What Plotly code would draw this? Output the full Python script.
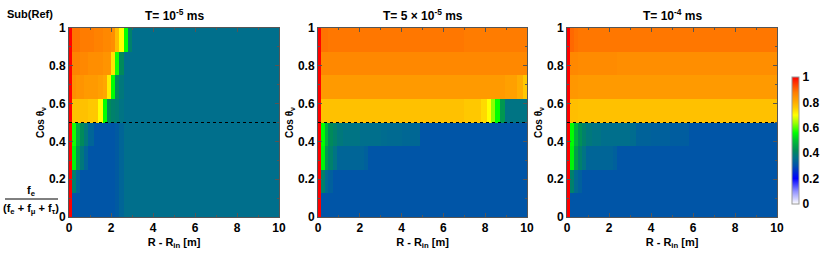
import plotly.graph_objects as go

# radial bin edges (m) and angular bin edges (cos theta)
r_edges = [0, 0.14, 0.34, 0.5, 0.7, 0.9, 1.2, 1.4, 1.6, 1.8, 2.0, 2.2, 2.4, 2.6, 2.8,
           3.0, 3.3, 4.0, 4.9, 5.8, 7.0, 7.8, 8.1, 8.3, 8.45, 8.7, 8.95, 9.5, 9.8, 10.0]
cos_edges = [0, 0.125, 0.25, 0.375, 0.5, 0.625, 0.75, 0.875, 1.0]

titles = ["T= 10<sup>-5</sup> ms", "T= 5 × 10<sup>-5</sup> ms", "T= 10<sup>-4</sup> ms"]
split_cos = 0.5

# Panel 1: T = 1e-5 ms  (rows from cos=0 upwards)
z_t1 = [
    [1.00, 0.31, 0.31, 0.31, 0.31, 0.31, 0.31, 0.31, 0.31, 0.31, 0.31, 0.32, 0.34, 0.36, 0.36, 0.36, 0.36, 0.36, 0.36, 0.36, 0.36, 0.36, 0.36, 0.36, 0.36, 0.36, 0.36, 0.36, 0.36],
    [1.00, 0.40, 0.34, 0.31, 0.31, 0.31, 0.31, 0.31, 0.31, 0.31, 0.31, 0.32, 0.34, 0.36, 0.36, 0.36, 0.36, 0.36, 0.36, 0.36, 0.36, 0.36, 0.36, 0.36, 0.36, 0.36, 0.36, 0.36, 0.36],
    [1.00, 0.55, 0.44, 0.38, 0.34, 0.31, 0.31, 0.31, 0.31, 0.31, 0.31, 0.32, 0.34, 0.36, 0.36, 0.36, 0.36, 0.36, 0.36, 0.36, 0.36, 0.36, 0.36, 0.36, 0.36, 0.36, 0.36, 0.36, 0.36],
    [1.00, 0.57, 0.47, 0.42, 0.38, 0.34, 0.31, 0.31, 0.31, 0.31, 0.31, 0.32, 0.34, 0.36, 0.36, 0.36, 0.36, 0.36, 0.36, 0.36, 0.36, 0.36, 0.36, 0.36, 0.36, 0.36, 0.36, 0.36, 0.36],
    [1.00, 0.77, 0.77, 0.77, 0.77, 0.76, 0.76, 0.70, 0.56, 0.42, 0.40, 0.39, 0.37, 0.36, 0.36, 0.36, 0.36, 0.36, 0.36, 0.36, 0.36, 0.36, 0.36, 0.36, 0.36, 0.36, 0.36, 0.36, 0.36],
    [1.00, 0.85, 0.84, 0.84, 0.83, 0.83, 0.83, 0.82, 0.81, 0.72, 0.56, 0.42, 0.38, 0.36, 0.36, 0.36, 0.36, 0.36, 0.36, 0.36, 0.36, 0.36, 0.36, 0.36, 0.36, 0.36, 0.36, 0.36, 0.36],
    [1.00, 0.87, 0.87, 0.86, 0.86, 0.85, 0.85, 0.85, 0.84, 0.84, 0.73, 0.57, 0.42, 0.36, 0.36, 0.36, 0.36, 0.36, 0.36, 0.36, 0.36, 0.36, 0.36, 0.36, 0.36, 0.36, 0.36, 0.36, 0.36],
    [1.00, 0.89, 0.89, 0.88, 0.88, 0.88, 0.87, 0.87, 0.86, 0.86, 0.85, 0.78, 0.70, 0.56, 0.40, 0.36, 0.36, 0.36, 0.36, 0.36, 0.36, 0.36, 0.36, 0.36, 0.36, 0.36, 0.36, 0.36, 0.36],
]

# Panel 2: T = 5e-5 ms
z_t2 = [
    [1.00, 0.31, 0.31, 0.31, 0.31, 0.31, 0.31, 0.31, 0.31, 0.31, 0.31, 0.31, 0.31, 0.31, 0.31, 0.31, 0.31, 0.31, 0.31, 0.31, 0.31, 0.31, 0.31, 0.31, 0.31, 0.31, 0.31, 0.31, 0.31],
    [1.00, 0.40, 0.35, 0.33, 0.31, 0.31, 0.31, 0.31, 0.31, 0.31, 0.31, 0.31, 0.31, 0.31, 0.31, 0.31, 0.31, 0.31, 0.31, 0.31, 0.31, 0.31, 0.31, 0.31, 0.31, 0.31, 0.31, 0.31, 0.31],
    [1.00, 0.55, 0.44, 0.40, 0.37, 0.34, 0.34, 0.34, 0.34, 0.34, 0.34, 0.33, 0.31, 0.31, 0.31, 0.31, 0.31, 0.31, 0.31, 0.31, 0.31, 0.31, 0.31, 0.31, 0.31, 0.31, 0.31, 0.31, 0.31],
    [1.00, 0.56, 0.48, 0.42, 0.40, 0.38, 0.37, 0.37, 0.37, 0.37, 0.36, 0.36, 0.36, 0.36, 0.36, 0.355, 0.35, 0.345, 0.31, 0.31, 0.31, 0.31, 0.31, 0.31, 0.31, 0.31, 0.31, 0.31, 0.31],
    [1.00, 0.77, 0.77, 0.77, 0.77, 0.77, 0.77, 0.77, 0.77, 0.77, 0.77, 0.77, 0.77, 0.77, 0.77, 0.77, 0.77, 0.77, 0.77, 0.77, 0.76, 0.74, 0.70, 0.63, 0.56, 0.44, 0.37, 0.37, 0.37],
    [1.00, 0.83, 0.83, 0.83, 0.83, 0.83, 0.83, 0.83, 0.83, 0.83, 0.83, 0.83, 0.83, 0.83, 0.83, 0.83, 0.83, 0.83, 0.83, 0.83, 0.83, 0.83, 0.83, 0.83, 0.83, 0.83, 0.82, 0.80, 0.76],
    [1.00, 0.86, 0.86, 0.86, 0.86, 0.86, 0.86, 0.86, 0.86, 0.86, 0.86, 0.86, 0.86, 0.86, 0.86, 0.86, 0.86, 0.86, 0.86, 0.86, 0.86, 0.86, 0.86, 0.86, 0.86, 0.86, 0.86, 0.86, 0.86],
    [1.00, 0.89, 0.89, 0.885, 0.885, 0.885, 0.885, 0.885, 0.885, 0.885, 0.885, 0.885, 0.885, 0.885, 0.885, 0.885, 0.885, 0.885, 0.885, 0.885, 0.88, 0.88, 0.88, 0.88, 0.88, 0.88, 0.88, 0.88, 0.88],
]

# Panel 3: T = 1e-4 ms
z_t3 = [
    [1.00, 0.31, 0.31, 0.31, 0.31, 0.31, 0.31, 0.31, 0.31, 0.31, 0.31, 0.31, 0.31, 0.31, 0.31, 0.31, 0.31, 0.31, 0.31, 0.31, 0.31, 0.31, 0.31, 0.31, 0.31, 0.31, 0.31, 0.31, 0.31],
    [1.00, 0.40, 0.35, 0.33, 0.31, 0.31, 0.31, 0.31, 0.31, 0.31, 0.31, 0.31, 0.31, 0.31, 0.31, 0.31, 0.31, 0.31, 0.31, 0.31, 0.31, 0.31, 0.31, 0.31, 0.31, 0.31, 0.31, 0.31, 0.31],
    [1.00, 0.55, 0.45, 0.40, 0.37, 0.34, 0.34, 0.34, 0.34, 0.34, 0.34, 0.33, 0.31, 0.31, 0.31, 0.31, 0.31, 0.31, 0.31, 0.31, 0.31, 0.31, 0.31, 0.31, 0.31, 0.31, 0.31, 0.31, 0.31],
    [1.00, 0.56, 0.48, 0.43, 0.40, 0.38, 0.37, 0.37, 0.36, 0.36, 0.36, 0.36, 0.36, 0.36, 0.36, 0.355, 0.335, 0.33, 0.325, 0.31, 0.31, 0.31, 0.31, 0.31, 0.31, 0.31, 0.31, 0.31, 0.31],
    [1.00, 0.775, 0.775, 0.77, 0.77, 0.77, 0.77, 0.77, 0.77, 0.77, 0.77, 0.77, 0.77, 0.77, 0.77, 0.77, 0.77, 0.77, 0.77, 0.77, 0.77, 0.77, 0.77, 0.77, 0.77, 0.77, 0.77, 0.77, 0.77],
    [1.00, 0.835, 0.835, 0.83, 0.83, 0.83, 0.83, 0.83, 0.83, 0.83, 0.83, 0.83, 0.83, 0.83, 0.83, 0.83, 0.83, 0.83, 0.83, 0.83, 0.83, 0.83, 0.83, 0.83, 0.83, 0.83, 0.83, 0.83, 0.83],
    [1.00, 0.86, 0.86, 0.855, 0.855, 0.855, 0.855, 0.855, 0.855, 0.855, 0.855, 0.855, 0.85, 0.85, 0.85, 0.85, 0.85, 0.85, 0.85, 0.85, 0.85, 0.85, 0.85, 0.85, 0.85, 0.85, 0.85, 0.85, 0.85],
    [1.00, 0.90, 0.89, 0.885, 0.885, 0.885, 0.885, 0.885, 0.885, 0.885, 0.885, 0.885, 0.885, 0.885, 0.885, 0.885, 0.885, 0.885, 0.885, 0.885, 0.885, 0.885, 0.885, 0.885, 0.885, 0.885, 0.885, 0.885, 0.885],
]

panels = [z_t1, z_t2, z_t3]

colorscale = [
    [0.00, "#ffffff"], [0.10, "#9090ff"], [0.20, "#0000ff"], [0.30, "#0050ac"],
    [0.36, "#006f8c"], [0.42, "#008a5a"], [0.50, "#00c030"], [0.56, "#00ff00"],
    [0.64, "#a0ff00"], [0.70, "#ffff00"], [0.76, "#ffc800"], [0.82, "#ffa000"],
    [0.88, "#ff7c00"], [0.94, "#ff4000"], [1.00, "#ff0000"],
]

W, H = 830, 256
x_dom = [(69, 279), (318, 527), (567, 777)]
y_top, y_bot = 28, 217

fig = go.Figure()
font_b = dict(family="Liberation Sans, Arial", size=12, color="black", weight="bold")
font_s = dict(font_b, size=11)

for i, z in enumerate(panels):
    xa = "x" if i == 0 else f"x{i+1}"
    ya = "y" if i == 0 else f"y{i+1}"
    fig.add_trace(go.Heatmap(
        x=r_edges, y=cos_edges, z=z, zmin=0, zmax=1,
        colorscale=colorscale, xaxis=xa, yaxis=ya,
        showscale=(i == 2),
        colorbar=dict(
            x=792 / W, xanchor="left", thickness=7, thicknessmode="pixels",
            len=127, lenmode="pixels", y=1 - 140.5 / H, yanchor="middle",
            tickvals=[0, 0.2, 0.4, 0.6, 0.8, 1], ticktext=["0", "0.2", "0.4", "0.6", "0.8", "1"],
            ticks="", outlinecolor="#999999", outlinewidth=1,
            tickfont=font_b, xpad=0, ypad=0,
        ),
    ))
    axis_common = dict(
        showgrid=False, zeroline=False, showline=True, linecolor="#555555", linewidth=1,
        mirror="ticks", ticks="inside", ticklen=4, tickcolor="#555555",
        tickfont=font_b, automargin=False,
    )
    key = "" if i == 0 else str(i + 1)
    fig.update_layout(**{
        f"xaxis{key}": dict(
            axis_common, domain=[x_dom[i][0] / W, x_dom[i][1] / W], range=[0, 10],
            tickvals=[0, 2, 4, 6, 8, 10], anchor=ya,
            minor=dict(ticks="inside", ticklen=2, dtick=1, tickcolor="#555555"),
            title=dict(text="R - R<sub>in</sub> [m]", font=font_s, standoff=3),
        ),
        f"yaxis{key}": dict(
            axis_common, domain=[1 - y_bot / H, 1 - y_top / H], range=[0, 1],
            tickvals=[0, 0.2, 0.4, 0.6, 0.8, 1], ticktext=["0", "0.2", "0.4", "0.6", "0.8", "1"],
            anchor=xa,
            minor=dict(ticks="inside", ticklen=2, dtick=0.1, tickcolor="#555555"),
            title=dict(text="Cos θ<sub>ν</sub>", font=dict(font_b, size=10), standoff=2),
        ),
    })
    fig.add_shape(type="line", xref=xa, yref=ya, x0=0, x1=10, y0=split_cos, y1=split_cos,
                  line=dict(color="black", width=1.2, dash="dot"))
    fig.add_annotation(text=titles[i], xref="paper", yref="paper",
                       x=(x_dom[i][0] + x_dom[i][1]) / 2 / W, y=1 - 15 / H,
                       showarrow=False, font=font_b, xanchor="center", yanchor="middle")

# left-side labels
fig.add_annotation(text="Sub(Ref)", xref="paper", yref="paper", x=5 / W, y=1 - 14 / H,
                   showarrow=False, font=font_s, xanchor="left", yanchor="middle")
fig.add_annotation(text="f<sub>e</sub>", xref="paper", yref="paper", x=31 / W, y=1 - 191 / H,
                   showarrow=False, font=font_s, xanchor="center", yanchor="middle")
fig.add_annotation(text="(f<sub>e</sub> + f<sub>μ</sub> + f<sub>τ</sub>)", xref="paper", yref="paper",
                   x=31 / W, y=1 - 209 / H,
                   showarrow=False, font=font_s, xanchor="center", yanchor="middle")
fig.add_shape(type="line", xref="paper", yref="paper", x0=5 / W, x1=58 / W,
              y0=1 - 199 / H, y1=1 - 199 / H, line=dict(color="black", width=1))

fig.update_layout(
    width=W, height=H, margin=dict(l=0, r=0, t=0, b=0, autoexpand=False),
    paper_bgcolor="white", plot_bgcolor="white", showlegend=False,
    font=dict(family="Liberation Sans, Arial", color="black"),
)

fig.write_html("out.html", post_script="document.body.style.margin='0';",
               config={"displayModeBar": False})
